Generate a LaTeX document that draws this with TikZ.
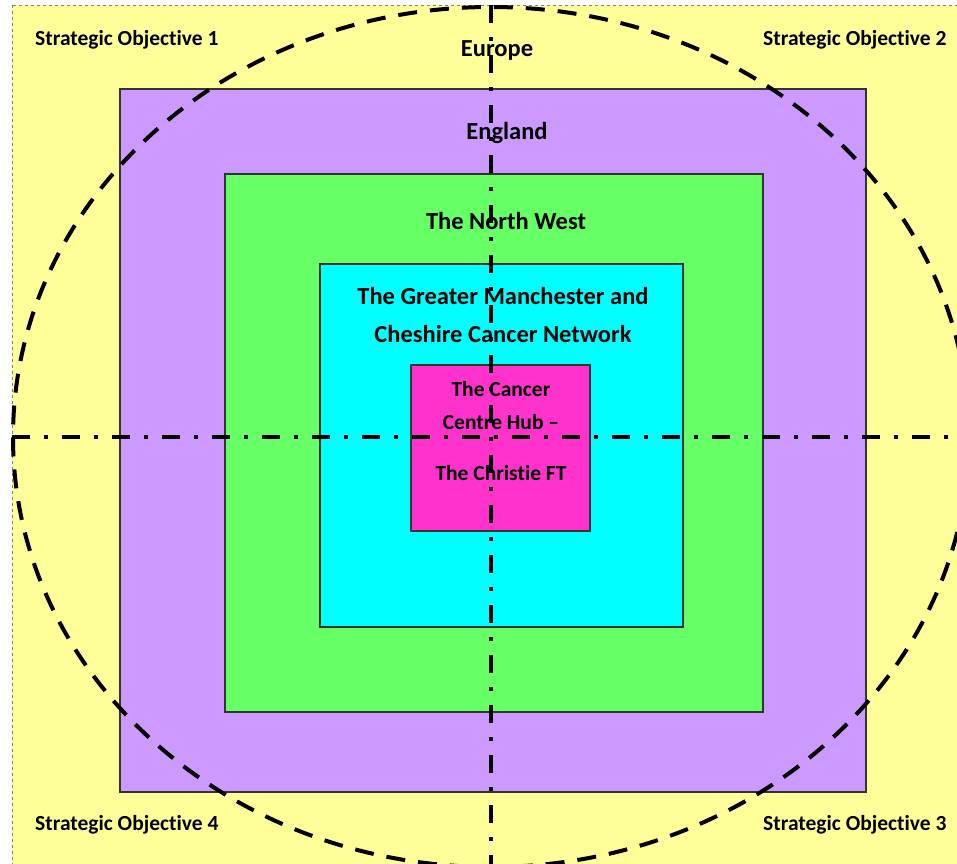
\documentclass[tikz,border=0pt]{standalone}
\usepackage{fontspec}
\setmainfont[Ligatures={NoCommon,NoContextual},RawFeature={-liga;-clig;-calt;-dlig}]{Carlito}
\definecolor{yellowbg}{HTML}{FFFF99}
\definecolor{purp}{HTML}{CC99FF}
\definecolor{grn}{HTML}{66FF66}
\definecolor{cyn}{HTML}{00FFFF}
\definecolor{mag}{HTML}{FF33CC}
\newcommand{\nolig}{\kern0pt{}}
\begin{document}
\begin{tikzpicture}[x=1pt,y=-1pt,
  box/.style={draw=black!80,line width=1.1pt},
  lbl/.style={font=\bfseries\fontsize{24.5}{28}\selectfont,anchor=base,inner sep=0pt},
  slbl/.style={font=\bfseries\fontsize{21.5}{25}\selectfont,anchor=base west,inner sep=0pt},
  clbl/.style={font=\bfseries\fontsize{21.5}{25}\selectfont,anchor=base,inner sep=0pt},
  ring/.style={line width=4pt,dash pattern=on 19pt off 13pt},
  axisline/.style={line width=4pt,dash pattern=on 18pt off 14pt on 4pt off 14pt}]
\useasboundingbox (0,0) rectangle (957,863);
\clip (0,0) rectangle (957,863);
\fill[white] (0,0) rectangle (957,863);
\filldraw[fill=yellowbg,draw=black!50,dashed,line width=0.8pt] (12,5) rectangle (975,880);
\filldraw[box,fill=purp] (120,89) rectangle (866,792);
\filldraw[box,fill=grn] (225,174) rectangle (763,712);
\filldraw[box,fill=cyn] (320,264) rectangle (683,627);
\filldraw[box,fill=mag] (411,365) rectangle (590,531);
% labels
\node[slbl] (so1) at (35,45) {Strategic Object\nolig ive 1};
\node[slbl] (so2) at (763,45) {Strategic Object\nolig ive 2};
\node[slbl] (so3) at (763,830) {Strategic Object\nolig ive 3};
\node[slbl] (so4) at (35,830) {Strategic Object\nolig ive 4};
\node[lbl] (eu) at (497,56) {Europe};
\node[lbl] (en) at (507,139) {England};
\node[lbl] (nw) at (506,229) {The North West};
\node[lbl] (gm1) at (503,304) {The Greater Manchester and};
\node[lbl] (gm2) at (503,342) {Cheshire Cancer Network};
\node[clbl] (cc1) at (501,396) {The Cancer};
\node[clbl] (cc2) at (501,429) {Centre Hub –};
\node[clbl] (cc3) at (501,480) {The Christ\nolig ie FT};
% ring and axes
\coordinate (ctr) at (491,437);
\coordinate (west) at (12,437);
\coordinate (east) at (975,437);
\coordinate (north) at (491,5);
\coordinate (south) at (491,875);
\draw[ring] (ctr) ellipse [x radius=478, y radius=430];
\draw[axisline] (west) -- (east);
\draw[axisline] (north) -- (south);
\end{tikzpicture}
\end{document}
